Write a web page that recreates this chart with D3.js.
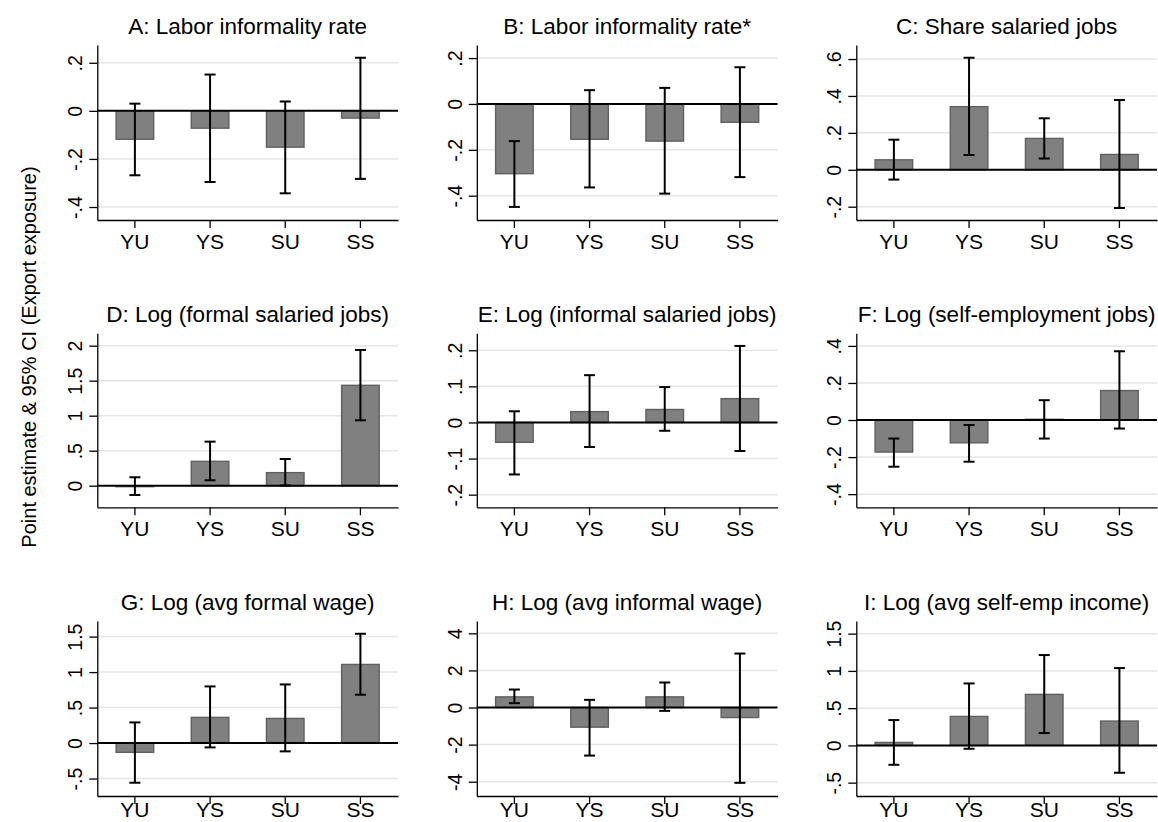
<!DOCTYPE html>
<html><head><meta charset="utf-8">
<script src="https://cdn.jsdelivr.net/npm/d3@7"></script>
<style>
body{margin:0;background:#fff;}
svg{display:block;}
text{font-family:"Liberation Sans",Arial,Helvetica,sans-serif;fill:#000;}
</style>
</head><body>
<svg id="chart" width="1158" height="822"></svg>
<script>
const categories = ["YU", "YS", "SU", "SS"];
const titles = [
  "A: Labor informality rate", "B: Labor informality rate*", "C: Share salaried jobs",
  "D: Log (formal salaried jobs)", "E: Log (informal salaried jobs)", "F: Log (self-employment jobs)",
  "G: Log (avg formal wage)", "H: Log (avg informal wage)", "I: Log (avg self-emp income)"
];
const estimates = [
  [-0.118, -0.072, -0.151, -0.030],
  [-0.304, -0.154, -0.162, -0.080],
  [0.054, 0.342, 0.170, 0.083],
  [-0.005, 0.348, 0.186, 1.434],
  [-0.055, 0.030, 0.036, 0.066],
  [-0.173, -0.123, 0.004, 0.159],
  [-0.131, 0.362, 0.347, 1.108],
  [0.575, -1.06, 0.575, -0.54],
  [0.040, 0.389, 0.685, 0.327]
];
const ciLow = [
  [-0.268, -0.296, -0.343, -0.283],
  [-0.449, -0.364, -0.391, -0.319],
  [-0.053, 0.080, 0.061, -0.207],
  [-0.133, 0.077, 0.003, 0.934],
  [-0.144, -0.068, -0.023, -0.079],
  [-0.252, -0.225, -0.100, -0.046],
  [-0.559, -0.061, -0.117, 0.681],
  [0.234, -2.59, -0.18, -4.06],
  [-0.260, -0.045, 0.166, -0.367]
];
const ciHigh = [
  [0.030, 0.151, 0.039, 0.221],
  [-0.162, 0.060, 0.070, 0.160],
  [0.163, 0.607, 0.279, 0.378],
  [0.120, 0.629, 0.381, 1.939],
  [0.031, 0.131, 0.098, 0.212],
  [-0.100, -0.027, 0.107, 0.371],
  [0.291, 0.798, 0.826, 1.540],
  [0.97, 0.414, 1.35, 2.91],
  [0.340, 0.832, 1.213, 1.038]
];
const yMin = [-0.454, -0.506, -0.272, -0.309, -0.235, -0.471, -0.746, -4.77, -0.679];
const yMax = [0.274, 0.257, 0.676, 2.177, 0.247, 0.468, 1.72, 4.665, 1.67];
const tickValues = [
  [-0.4, -0.2, 0, 0.2],
  [-0.4, -0.2, 0, 0.2],
  [-0.2, 0, 0.2, 0.4, 0.6],
  [0, 0.5, 1, 1.5, 2],
  [-0.2, -0.1, 0, 0.1, 0.2],
  [-0.4, -0.2, 0, 0.2, 0.4],
  [-0.5, 0, 0.5, 1, 1.5],
  [-4, -2, 0, 2, 4],
  [-0.5, 0, 0.5, 1, 1.5]
];
const tickLabels = [
  ["-.4", "-.2", "0", ".2"],
  ["-.4", "-.2", "0", ".2"],
  ["-.2", "0", ".2", ".4", ".6"],
  ["0", ".5", "1", "1.5", "2"],
  ["-.2", "-.1", "0", ".1", ".2"],
  ["-.4", "-.2", "0", ".2", ".4"],
  ["-.5", "0", ".5", "1", "1.5"],
  ["-4", "-2", "0", "2", "4"],
  ["-.5", "0", ".5", "1", "1.5"]
];
const yAxisTitle = "Point estimate & 95% CI (Export exposure)";

// layout
const colLeft = [97.3, 476.8, 856.3], colRight = [398, 777.5, 1157];
const rowTop = [45, 333.3, 621], rowBottom = [220, 507.3, 796];
const xLabelOffset = [28.5, 28.5, 21];

const svg = d3.select("#chart");
svg.append("rect").attr("width", 1158).attr("height", 822).attr("fill", "#fff");

titles.forEach((t, p) => {
  const r = Math.floor(p / 3), c = p % 3;
  const x = d3.scaleBand().domain(categories).range([colLeft[c], colRight[c]]);
  const y = d3.scaleLinear().domain([yMin[p], yMax[p]]).range([rowBottom[r], rowTop[r]]);
  const g = svg.append("g");

  g.selectAll("line.grid").data(tickValues[p].filter(v => v !== 0)).join("line")
    .attr("class", "grid")
    .attr("x1", colLeft[c]).attr("x2", colRight[c])
    .attr("y1", d => y(d)).attr("y2", d => y(d))
    .attr("stroke", "#e6e6e6").attr("stroke-width", 1.5);

  const rows = categories.map((k, i) => ({k, est: estimates[p][i], lo: ciLow[p][i], hi: ciHigh[p][i]}));
  const bw = x.bandwidth() * 0.5;
  const cx = d => x(d.k) + x.bandwidth() / 2;

  g.selectAll("rect.bar").data(rows).join("rect")
    .attr("class", "bar")
    .attr("x", d => cx(d) - bw / 2).attr("width", bw)
    .attr("y", d => Math.min(y(0), y(d.est)))
    .attr("height", d => Math.max(1, Math.abs(y(d.est) - y(0))))
    .attr("fill", "#808080").attr("stroke", "#606060").attr("stroke-width", 1.4);

  g.append("line")
    .attr("x1", colLeft[c]).attr("x2", colRight[c])
    .attr("y1", y(0)).attr("y2", y(0))
    .attr("stroke", "#000").attr("stroke-width", 2);

  const eb = g.selectAll("g.eb").data(rows).join("g").attr("class", "eb");
  eb.append("line").attr("x1", cx).attr("x2", cx)
    .attr("y1", d => y(d.lo)).attr("y2", d => y(d.hi))
    .attr("stroke", "#000").attr("stroke-width", 2);
  eb.append("line").attr("x1", d => cx(d) - 5.5).attr("x2", d => cx(d) + 5.5)
    .attr("y1", d => y(d.hi)).attr("y2", d => y(d.hi))
    .attr("stroke", "#000").attr("stroke-width", 2);
  eb.append("line").attr("x1", d => cx(d) - 5.5).attr("x2", d => cx(d) + 5.5)
    .attr("y1", d => y(d.lo)).attr("y2", d => y(d.lo))
    .attr("stroke", "#000").attr("stroke-width", 2);

  const ya = d3.axisLeft(y).tickValues(tickValues[p])
    .tickFormat((d, i) => tickLabels[p][i]).tickSize(8).tickSizeOuter(0);
  const yg = g.append("g").attr("transform", `translate(${colLeft[c]},0)`).call(ya);
  yg.select(".domain").attr("stroke", "#000").attr("stroke-width", 1.3);
  yg.selectAll(".tick line").attr("stroke", "#000").attr("stroke-width", 1.3);
  yg.selectAll(".tick text")
    .attr("x", null).attr("dy", null)
    .attr("text-anchor", "middle")
    .attr("transform", "translate(-15,0) rotate(-90)")
    .style("font-size", "19.5px")
    .style("font-family", '"Liberation Sans",Arial,sans-serif');

  const xa = d3.axisBottom(x).tickSize(8).tickSizeOuter(0);
  const xg = g.append("g").attr("transform", `translate(0,${rowBottom[r]})`).call(xa);
  xg.select(".domain").attr("stroke", "#000").attr("stroke-width", 1.3);
  xg.selectAll(".tick line").attr("stroke", "#000").attr("stroke-width", 1.3);
  xg.selectAll(".tick text")
    .attr("y", xLabelOffset[r]).attr("dy", null)
    .style("font-size", "21px")
    .style("font-family", '"Liberation Sans",Arial,sans-serif');

  g.append("text")
    .attr("x", (colLeft[c] + colRight[c]) / 2)
    .attr("y", rowTop[r] - 11.5)
    .attr("text-anchor", "middle")
    .style("font-size", "22.5px")
    .text(t);
});

svg.append("text")
  .attr("transform", "translate(35.5,357) rotate(-90)")
  .attr("text-anchor", "middle")
  .style("font-size", "20px")
  .text(yAxisTitle);
</script>
</body></html>
